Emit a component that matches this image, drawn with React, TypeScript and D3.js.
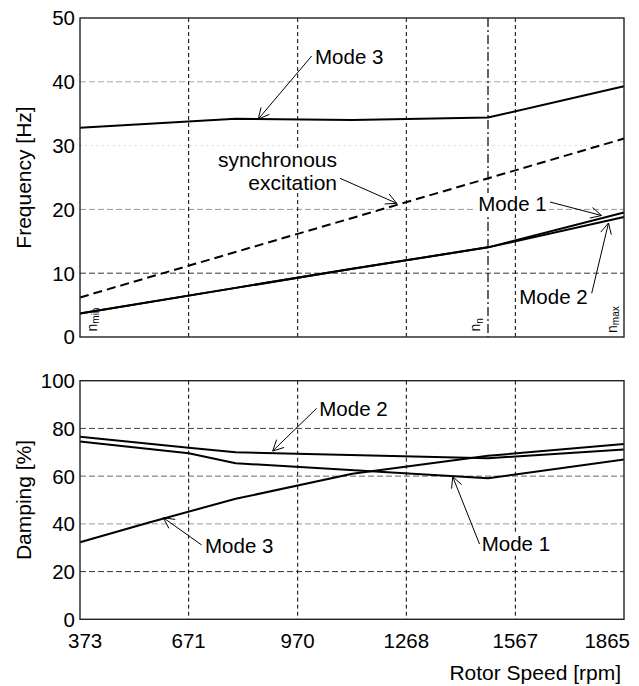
import React, { useEffect, useRef } from "react";
import * as d3 from "d3";

// ---------- data ----------
const RPM_DOMAIN = [373, 1865];
const RPM_TICKS = [373, 671, 970, 1268, 1567, 1865];
const RPM_GRID = [671, 970, 1268, 1567];
const N_MIN = 373;
const N_N = 1492;
const N_MAX = 1865;

const FREQ_TICKS = [0, 10, 20, 30, 40, 50];
const FREQ_GRID = [10, 20, 30, 40];
const DAMP_TICKS = [0, 20, 40, 60, 80, 100];
const DAMP_GRID = [20, 40, 60, 80];

// Frequency [Hz]
const freqRpm = [373, 800, 1120, 1492, 1865];
const freqMode1 = [3.7, 7.7, 10.7, 14.05, 19.5];
const freqMode2 = [3.7, 7.7, 10.7, 14.05, 18.8];
const freqMode3 = [32.8, 34.2, 34.0, 34.4, 39.3];
const syncRpm = [373, 1865];
const syncFreq = [6.2, 31.1];

// Damping [%]
const dampRpm12 = [373, 671, 800, 1492, 1865];
const dampMode1 = [74.5, 69.6, 65.4, 59.1, 67.0];
const dampMode2 = [76.5, 71.9, 70.0, 67.5, 71.2];
const dampRpm3 = [373, 560, 800, 1120, 1492, 1865];
const dampMode3 = [32.3, 40.5, 50.5, 61.0, 68.5, 73.5];

// ---------- styles ----------
const FONT = "'Liberation Sans', Arial, Helvetica, sans-serif";
const FREQ_GRID_STYLE: Record<number, { c: string; d: string }> = {
  10: { c: "#333", d: "6,3" },
  20: { c: "#999", d: "6,3" },
  30: { c: "#ccc", d: "1.5,4" },
  40: { c: "#aaa", d: "6,3" },
};
const DAMP_GRID_STYLE: Record<number, { c: string; d: string }> = {
  20: { c: "#333", d: "6,3" },
  40: { c: "#999", d: "6,3" },
  60: { c: "#666", d: "6,3" },
  80: { c: "#444", d: "6,3" },
};

export default function App() {
  const ref = useRef<SVGSVGElement | null>(null);

  useEffect(() => {
    const svg = d3.select(ref.current);
    svg.selectAll("*").remove();

    const L = 80, R = 624;
    const x = d3.scaleLinear().domain(RPM_DOMAIN).range([L, R]);
    const yF = d3.scaleLinear().domain([0, 50]).range([337, 18]);
    const yD = d3.scaleLinear().domain([0, 100]).range([619.3, 380.7]);

    const gGrid = svg.append("g");
    const gText = svg.append("g");
    const gLines = svg.append("g");
    const gTop = svg.append("g");

    // grid - top
    FREQ_GRID.forEach((v) => {
      const s = FREQ_GRID_STYLE[v];
      gGrid.append("line").attr("x1", L).attr("x2", R).attr("y1", yF(v)).attr("y2", yF(v))
        .attr("stroke", s.c).attr("stroke-width", 1).attr("stroke-dasharray", s.d);
    });
    RPM_GRID.forEach((v) => {
      gGrid.append("line").attr("x1", x(v)).attr("x2", x(v)).attr("y1", yF(50)).attr("y2", yF(0))
        .attr("stroke", "#000").attr("stroke-width", 1).attr("stroke-dasharray", "4,3");
    });
    gGrid.append("line").attr("x1", x(N_N)).attr("x2", x(N_N)).attr("y1", yF(50)).attr("y2", yF(0))
      .attr("stroke", "#000").attr("stroke-width", 1.2).attr("stroke-dasharray", "9,3,2,3");

    // grid - bottom
    DAMP_GRID.forEach((v) => {
      const s = DAMP_GRID_STYLE[v];
      gGrid.append("line").attr("x1", L).attr("x2", R).attr("y1", yD(v)).attr("y2", yD(v))
        .attr("stroke", s.c).attr("stroke-width", 1).attr("stroke-dasharray", s.d);
    });
    RPM_GRID.forEach((v) => {
      gGrid.append("line").attr("x1", x(v)).attr("x2", x(v)).attr("y1", yD(100)).attr("y2", yD(0))
        .attr("stroke", "#000").attr("stroke-width", 1).attr("stroke-dasharray", "4,3");
    });

    // text helper with white background
    const label = (
      t: string, tx: number, ty: number, anchor: string = "start", bg = true, size = 20.5
    ) => {
      const el = gText.append("text").attr("x", tx).attr("y", ty).attr("text-anchor", anchor)
        .attr("font-family", FONT).attr("font-size", size).attr("fill", "#000").text(t);
      if (bg) {
        const b = (el.node() as SVGTextElement).getBBox();
        gText.insert("rect", () => el.node() as any)
          .attr("x", b.x - 2).attr("y", b.y + 1).attr("width", b.width + 4).attr("height", b.height - 2)
          .attr("fill", "#fff");
      }
      return el;
    };

    const arrow = (x1: number, y1: number, x2: number, y2: number) => {
      const ang = Math.atan2(y1 - y2, x1 - x2);
      const len = 12, half = (27 * Math.PI) / 180;
      const a1 = [x2 + len * Math.cos(ang + half), y2 + len * Math.sin(ang + half)];
      const a2 = [x2 + len * Math.cos(ang - half), y2 + len * Math.sin(ang - half)];
      gTop.append("path")
        .attr("d", `M${x1},${y1}L${x2},${y2}M${a1[0]},${a1[1]}L${x2},${y2}L${a2[0]},${a2[1]}`)
        .attr("fill", "none").attr("stroke", "#000").attr("stroke-width", 1);
    };

    // curves
    const drawCurve = (xs: number[], ys: number[], yScale: any, dash?: string) => {
      const line = d3.line<number>().x((_, i) => x(xs[i])).y((d) => yScale(d));
      const p = gLines.append("path").attr("d", line(ys) as string).attr("fill", "none")
        .attr("stroke", "#000").attr("stroke-width", 2).attr("stroke-linejoin", "round");
      if (dash) p.attr("stroke-dasharray", dash);
    };
    drawCurve(syncRpm, syncFreq, yF, "9,5");
    drawCurve(freqRpm, freqMode3, yF);
    drawCurve(freqRpm, freqMode2, yF);
    drawCurve(freqRpm, freqMode1, yF);
    drawCurve(dampRpm12, dampMode1, yD);
    drawCurve(dampRpm12, dampMode2, yD);
    drawCurve(dampRpm3, dampMode3, yD);

    // boxes
    [[yF(50), yF(0)], [yD(100), yD(0)]].forEach(([t, b]) => {
      gTop.append("rect").attr("x", L).attr("y", t).attr("width", R - L).attr("height", b - t)
        .attr("fill", "none").attr("stroke", "#222").attr("stroke-width", 1.4);
    });

    // y tick labels
    FREQ_TICKS.forEach((v) => {
      label(String(v), 75, yF(v), "end", false).attr("dy", "0.36em");
    });
    DAMP_TICKS.forEach((v) => {
      label(String(v), 75, yD(v), "end", false).attr("dy", "0.36em");
    });
    // x tick labels
    RPM_TICKS.forEach((v, i) => {
      if (i === 0) label(String(v), x(v) - 12, 648, "start", false);
      else if (i === RPM_TICKS.length - 1) label(String(v), x(v) + 6, 648, "end", false);
      else label(String(v), x(v), 648, "middle", false);
    });

    // axis titles
    gText.append("text").attr("transform", `translate(31,${(yF(50) + yF(0)) / 2}) rotate(-90)`)
      .attr("text-anchor", "middle").attr("font-family", FONT).attr("font-size", 21).text("Frequency [Hz]");
    gText.append("text").attr("transform", `translate(31,${(yD(100) + yD(0)) / 2}) rotate(-90)`)
      .attr("text-anchor", "middle").attr("font-family", FONT).attr("font-size", 21).text("Damping [%]");
    label("Rotor Speed [rpm]", 621, 680, "end", false, 21);

    // n labels
    const nLabel = (sub: string, tx: number, ty: number) => {
      const t = gText.append("text").attr("transform", `translate(${tx},${ty}) rotate(-90)`)
        .attr("font-family", FONT).attr("font-size", 14);
      t.append("tspan").text("n");
      t.append("tspan").attr("font-size", 10).attr("dy", 2.5).text(sub);
    };
    nLabel("min", x(N_MIN) + 16.5, 331.5);
    nLabel("n", x(N_N) - 8, 331.5);
    nLabel("max", x(N_MAX) - 7.5, 333);

    // annotations top
    label("Mode 3", 315, 64);
    arrow(311.7, 56, 258.3, 119);
    label("synchronous", 337, 167, "end", true, 21);
    label("excitation", 337, 190, "end", true, 21);
    arrow(340, 178.3, 396.7, 203.3);
    label("Mode 1", 478.3, 211);
    arrow(550, 202, 601.5, 215.5);
    label("Mode 2", 519.3, 304);
    arrow(591.7, 293.3, 608.5, 223);

    // annotations bottom
    label("Mode 2", 319.3, 416);
    arrow(316.7, 408.3, 272.7, 451);
    label("Mode 3", 205, 553);
    arrow(201.7, 545, 163.3, 517.7);
    label("Mode 1", 481.7, 551);
    arrow(479.5, 544, 452.7, 476.7);
  }, []);

  return (
    <svg
      ref={ref}
      width={639}
      height={686}
      style={{ position: "absolute", left: 0, top: 0, background: "#fff" }}
    />
  );
}
